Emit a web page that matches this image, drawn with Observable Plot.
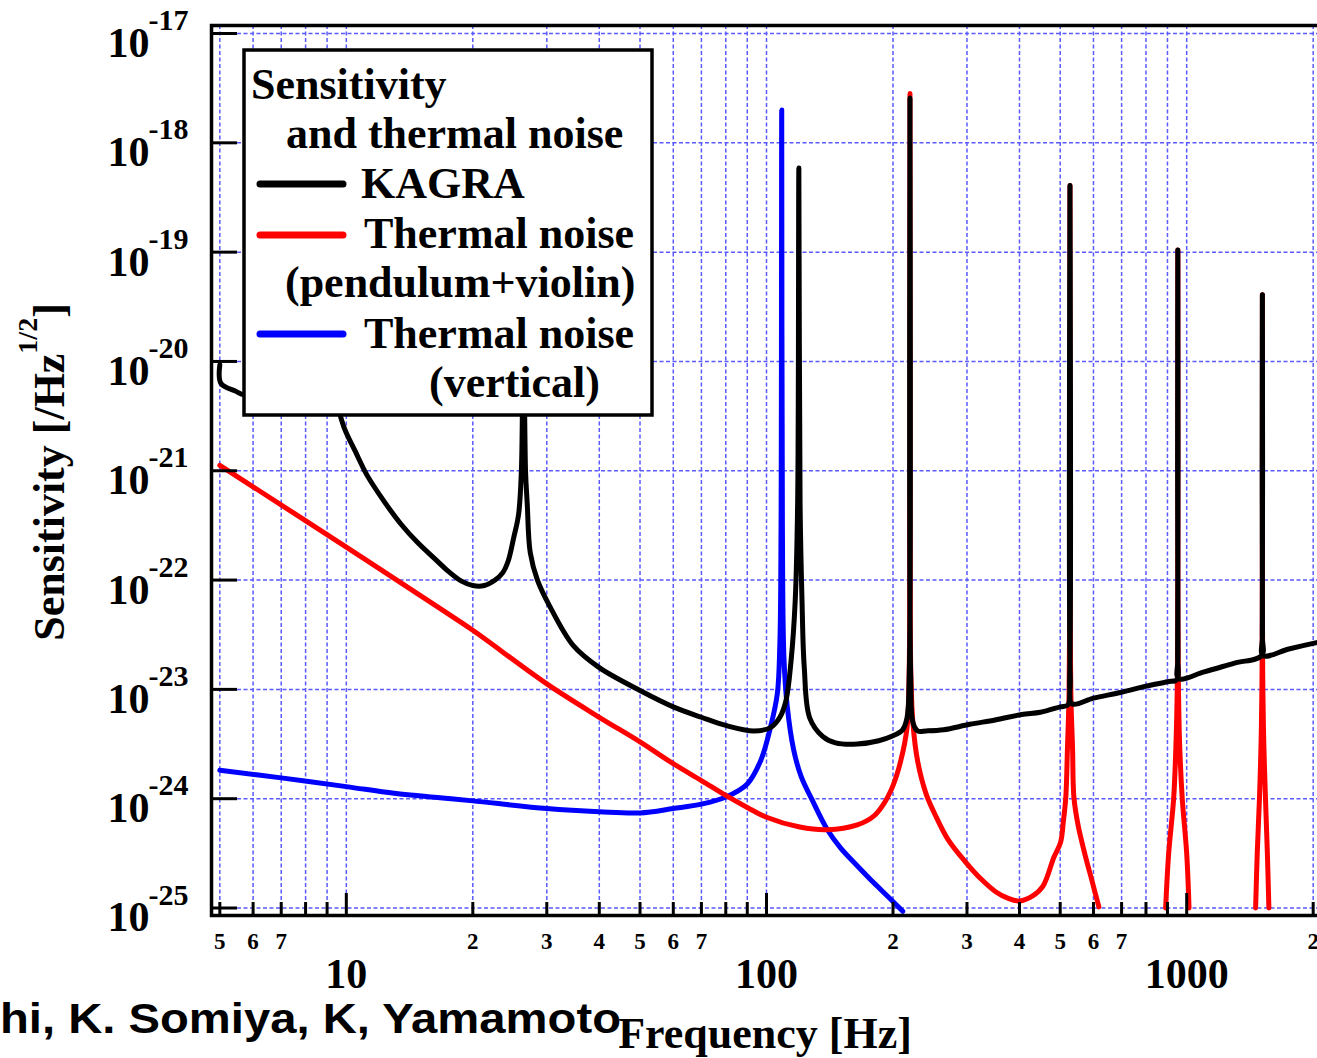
<!DOCTYPE html>
<html>
<head>
<meta charset="utf-8">
<script src="https://cdn.jsdelivr.net/npm/d3@7"></script>
<script src="https://cdn.jsdelivr.net/npm/@observablehq/plot@0.6"></script>
<style>
html, body { margin: 0; padding: 0; background: #fff; overflow: hidden; width: 1317px; height: 1058px; }
#chart { position: absolute; left: 0; top: 0; width: 1330px; }
#chart svg { max-width: none !important; }
</style>
</head>
<body>
<div id="chart"></div>
<script>
// ---------- data ----------
// KAGRA sensitivity
const kagraHz = [5.0,5.03,5.44,5.75,6.5,7.5,8.5,9.3,9.87,10.5,11.2,12.3,13.5,14.8,16.2,17.5,18.8,20.0,21.3,22.6,23.6,24.3,25.0,25.7,26.1,26.4,26.7,26.95,27.4,28.5,30.5,34.7,40,50,60,70,80,93.3,102.2,107.6,111.3,114.4,117,118.6,119.4,120.2,121.5,123,126.7,136,146,164.4,185,198.7,210.8,216,218.6,219.5,220.4,223,229,240,264,304.5,350,404.8,448.7,500,522,526.6,527.5,528.4,533,600,700,800,900,948,951.8,952.6,953.4,957,1100,1300,1508,1513.2,1514,1514.8,1520,1750,2050];
const kagraSens = [9.33e-21,6.31e-21,5.37e-21,5.01e-21,2.51e-20,3.98e-20,2.0e-20,5.62e-21,2.51e-21,1.51e-21,9.12e-22,5.25e-22,3.24e-22,2.19e-22,1.58e-22,1.2e-22,9.77e-23,8.91e-23,8.91e-23,1.0e-22,1.175e-22,1.51e-22,2.4e-22,3.98e-22,1.0e-21,3.16e-20,1.0e-21,5.01e-22,1.78e-22,1.0e-22,5.75e-23,2.51e-23,1.58e-23,9.77e-24,6.92e-24,5.56e-24,4.68e-24,4.17e-24,4.47e-24,5.56e-24,7.94e-24,1.82e-23,6.31e-23,5.01e-22,5.89e-19,5.01e-22,6.31e-23,1.58e-23,5.5e-24,3.72e-24,3.24e-24,3.16e-24,3.39e-24,3.72e-24,4.27e-24,5.5e-24,1.26e-23,2.57e-18,1.26e-23,5.01e-24,4.17e-24,4.17e-24,4.27e-24,4.79e-24,5.25e-24,5.89e-24,6.17e-24,6.92e-24,7.24e-24,1.26e-23,4.07e-19,1.26e-23,7.41e-24,8.32e-24,9.42e-24,1.07e-23,1.175e-23,1.23e-23,2.0e-23,1.047e-19,2.0e-23,1.26e-23,1.445e-23,1.74e-23,2.04e-23,3.16e-23,4.07e-20,3.16e-23,2.04e-23,2.34e-23,2.69e-23];

// Thermal noise (pendulum + violin) – three drawn pieces
const pendHzA = [5,10,16.7,20,30,40,50,60,70,80,90,100,120,139.4,164.4,180,189.6,200,208.5,216,218.6,219.2,219.5,219.8,220.4,223,229,240,252,270,297,325,351,375,400,430,455,483,501,509,515.6,520.3,524.5,526.8,527.5,528.2,530.5,535,539,552,575,595,618];
const pendSensA = [1.122e-21,2.0e-22,5.5e-23,3.47e-23,1.122e-23,5.56e-24,3.31e-24,2.09e-24,1.466e-24,1.072e-24,8.32e-25,6.76e-25,5.5e-25,5.2e-25,5.75e-25,6.92e-25,8.81e-25,1.318e-24,2.19e-24,4.47e-24,1.585e-23,1.585e-22,2.82e-18,1.585e-22,1.585e-23,5.01e-24,2.19e-24,1.096e-24,7.13e-25,4.27e-25,2.66e-25,1.82e-25,1.41e-25,1.23e-25,1.16e-25,1.29e-25,1.585e-25,2.91e-25,3.98e-25,6.31e-25,1.03e-24,2.91e-24,7.94e-24,5.01e-23,4.07e-19,5.01e-23,7.94e-24,2.91e-24,1.03e-24,5.62e-25,2.91e-25,1.78e-25,1.023e-25];
const pendHzB = [891,906,931,943,949.5,952,952.6,953.2,956,962,976,1000,1013];
const pendSensB = [1.0e-25,3.16e-25,1.0e-24,3.16e-24,1.0e-23,5.01e-23,1.047e-19,5.01e-23,1.0e-23,3.16e-24,1.0e-24,3.16e-25,1.0e-25];
const pendHzC = [1459,1472,1490,1503,1510,1513.4,1514,1514.6,1518,1526,1540,1556,1569];
const pendSensC = [1.0e-25,3.16e-25,1.0e-24,3.16e-24,1.0e-23,5.01e-23,4.07e-20,5.01e-23,1.0e-23,3.16e-24,1.0e-24,3.16e-25,1.0e-25];

// Thermal noise (vertical)
const vertHz = [5,7,10,13,16.7,20,30,40,50,60,70,80,90,96.9,102.2,106.1,107.6,108.3,108.7,109.1,110,112,116,121,128,139.4,150,165,180,195,211];
const vertSens = [1.82e-24,1.55e-24,1.29e-24,1.12e-24,1.02e-24,9.55e-25,8.13e-25,7.59e-25,7.41e-25,8.13e-25,8.91e-25,1.035e-24,1.365e-24,2.24e-24,4.5e-24,9.12e-24,2.63e-23,3.16e-22,2.0e-18,3.16e-22,2.0e-23,7.08e-24,2.82e-24,1.58e-24,1.0e-24,5.25e-25,3.55e-25,2.4e-25,1.7e-25,1.26e-25,9.33e-26];

// axes
const yTickValues = [1e-25,1e-24,1e-23,1e-22,1e-21,1e-20,1e-19,1e-18,1e-17];
const yTickExponents = ["-25","-24","-23","-22","-21","-20","-19","-18","-17"];
const xGridValues = [5,6,7,8,9,10,20,30,40,50,60,70,80,90,100,200,300,400,500,600,700,800,900,1000,2000];
const xMajorTicks = [10,100,1000];
const xMajorLabels = ["10","100","1000"];
const xMinorTicks = [5,6,7,8,9,20,30,40,50,60,70,80,90,200,300,400,500,600,700,800,900,2000];
const xMinorLabelValues = [5,6,7,20,30,40,50,60,70,200,300,400,500,600,700,2000];
const xMinorLabels = ["5","6","7","2","3","4","5","6","7","2","3","4","5","6","7","2"];

// ---------- build tables ----------
const kagra = kagraHz.map((f, i) => ({f, v: kagraSens[i]}));
const pend = [
  ...pendHzA.map((f, i) => ({f, v: pendSensA[i], seg: "a"})),
  ...pendHzB.map((f, i) => ({f, v: pendSensB[i], seg: "b"})),
  ...pendHzC.map((f, i) => ({f, v: pendSensC[i], seg: "c"}))
];
const vert = vertHz.map((f, i) => ({f, v: vertSens[i]}));

const W = 1330, H = 1058;
const mL = 211, mT = 25, mR = 6, mB = 143;
const plotW = W - mL - mR, plotH = H - mT - mB;
const xDomain = [4.777, 2128];
const yDomain = [8.54e-26, 1.184e-17];
const serif = "'Liberation Serif', 'Times New Roman', Times, serif";
const gridColor = "#5a5aff";
const curve = "catmull-rom";

const chart = Plot.plot({
  width: W, height: H,
  marginLeft: mL, marginTop: mT, marginRight: mR, marginBottom: mB,
  x: {type: "log", domain: xDomain, axis: null},
  y: {type: "log", domain: yDomain, axis: null},
  style: {fontFamily: serif, fontWeight: "bold", background: "white", overflow: "visible", color: "black"},
  marks: [
    Plot.ruleX(xGridValues, {x: d => d, stroke: gridColor, strokeWidth: 1.5, strokeDasharray: "4,2.5"}),
    Plot.ruleY(yTickValues, {y: d => d, stroke: gridColor, strokeWidth: 1.5, strokeDasharray: "4,2.5"}),
    Plot.line(vert, {x: "f", y: "v", stroke: "#0000ff", strokeWidth: 5, curve}),
    Plot.line(pend, {x: "f", y: "v", z: "seg", stroke: "#ff0000", strokeWidth: 5, curve}),
    Plot.line(kagra, {x: "f", y: "v", stroke: "#000000", strokeWidth: 5, curve}),
    Plot.tickX(xMajorTicks, {x: d => d, insetTop: plotH - 22, stroke: "black", strokeWidth: 3}),
    Plot.tickX(xMinorTicks, {x: d => d, insetTop: plotH - 13, stroke: "black", strokeWidth: 3}),
    Plot.tickY(yTickValues, {y: d => d, insetRight: plotW - 26, stroke: "black", strokeWidth: 3}),
    Plot.frame({stroke: "black", strokeWidth: 3.5}),
    // y tick labels 10^n
    Plot.text(yTickValues, {x: xDomain[0], y: d => d, text: () => "10", textAnchor: "end", dx: -62, dy: 10, fontSize: 42, fontWeight: "bold", fontFamily: serif, fill: "black"}),
    Plot.text(yTickValues, {x: xDomain[0], y: d => d, text: (d, i) => yTickExponents[i], textAnchor: "start", dx: -63, dy: -13, fontSize: 30, fontWeight: "bold", fontFamily: serif, fill: "black"}),
    // x tick labels
    Plot.text(xMinorLabelValues, {x: d => d, y: yDomain[0], text: (d, i) => xMinorLabels[i], dy: 26, fontSize: 23, fontWeight: "bold", fontFamily: serif, fill: "black"}),
    Plot.text(xMajorTicks, {x: d => d, y: yDomain[0], text: (d, i) => xMajorLabels[i], dy: 59, fontSize: 42, fontWeight: "bold", fontFamily: serif, fill: "black"}),
    // x axis title
    Plot.text(["Frequency [Hz]"], {frameAnchor: "bottom", lineAnchor: "middle", dx: -3, dy: 118, fontSize: 44, fontWeight: "bold", fontFamily: serif, fill: "black"})
  ]
});
chart.style.maxWidth = "none";
chart.style.width = W + "px";
chart.style.height = H + "px";
document.getElementById("chart").appendChild(chart);

// ---------- y-axis title with superscript ----------
const svg = d3.select(chart);
const yt = svg.append("text")
  .attr("transform", "translate(64,472) rotate(-90)")
  .attr("text-anchor", "middle")
  .attr("font-family", serif).attr("font-weight", "bold").attr("font-size", 44).attr("fill", "black");
yt.append("tspan").text("Sensitivity [/Hz");
yt.append("tspan").attr("font-size", 28).attr("dy", -27).text("1/2");
yt.append("tspan").attr("dy", 27).text("]");

// ---------- caption (bottom-left) ----------
svg.append("text")
  .attr("x", 0).attr("y", 1033)
  .attr("text-anchor", "start")
  .attr("font-family", "'Liberation Sans', Arial, Helvetica, sans-serif")
  .attr("font-weight", "bold").attr("font-size", 42).attr("fill", "black")
  .attr("textLength", 621).attr("lengthAdjust", "spacingAndGlyphs")
  .text("hi, K. Somiya, K, Yamamoto");

// ---------- legend ----------
const lg = svg.append("g").attr("font-family", serif).attr("font-weight", "bold").attr("font-size", 44)
  .attr("fill", "black").attr("text-anchor", "start");
lg.append("rect").attr("x", 244).attr("y", 50).attr("width", 408).attr("height", 365)
  .attr("fill", "white").attr("stroke", "black").attr("stroke-width", 3.5);
const legendLines = [
  {y: 184, color: "#000000"},
  {y: 235, color: "#ff0000"},
  {y: 334, color: "#0000ff"}
];
legendLines.forEach(d => {
  lg.append("line").attr("x1", 260).attr("x2", 343).attr("y1", d.y).attr("y2", d.y)
    .attr("stroke", d.color).attr("stroke-width", 7).attr("stroke-linecap", "round");
});
const legendTexts = [
  {t: "Sensitivity", x: 251, y: 99},
  {t: "and thermal noise", x: 286, y: 148},
  {t: "KAGRA", x: 361, y: 198},
  {t: "Thermal noise", x: 364, y: 248},
  {t: "(pendulum+violin)", x: 285, y: 297},
  {t: "Thermal noise", x: 364, y: 348},
  {t: "(vertical)", x: 429, y: 397}
];
legendTexts.forEach(d => {
  lg.append("text").attr("x", d.x).attr("y", d.y).attr("text-anchor", "start").text(d.t);
});
</script>
</body>
</html>
